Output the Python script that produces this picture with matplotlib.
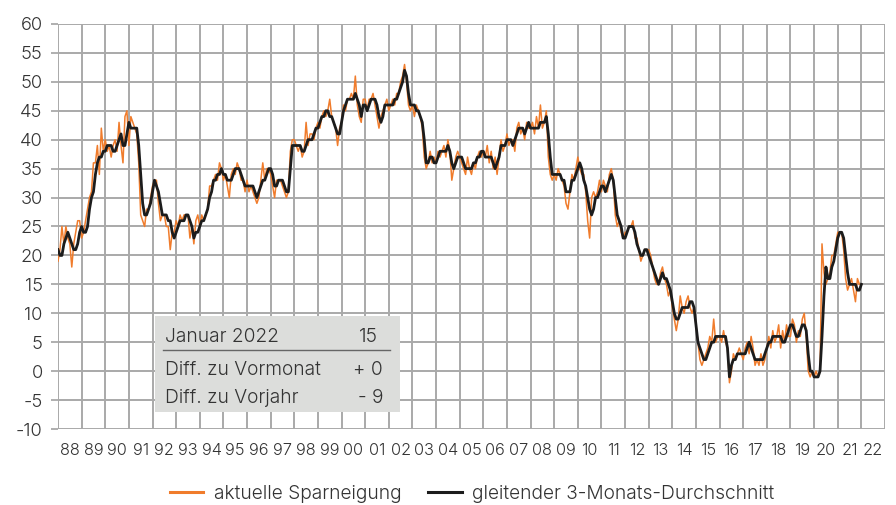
import matplotlib
matplotlib.use("Agg")
import matplotlib.pyplot as plt
import numpy as np
from matplotlib.patches import Rectangle

plt.rcParams['font.family'] = ['Inter', 'DejaVu Sans']
plt.rcParams['font.weight'] = 300

start_year = 1988
# monthly values Jan 1988 .. Jan 2022, one row per year
sparneigung = [
    19, 21, 25, 22, 25, 23, 22, 18, 22, 24, 26, 26,   # 88
    23, 24, 26, 28, 30, 31, 36, 36, 39, 34, 42, 38,   # 89
    40, 38, 39, 37, 39, 40, 38, 43, 39, 36, 44, 45,   # 90
    39, 44, 43, 42, 41, 36, 27, 26, 25, 28, 28, 30,   # 91
    32, 33, 33, 29, 26, 27, 27, 25, 25, 21, 24, 24,   # 92
    26, 25, 27, 26, 27, 27, 27, 23, 25, 22, 26, 27,   # 93
    25, 27, 26, 27, 28, 32, 32, 33, 34, 33, 36, 35,   # 94
    33, 34, 32, 30, 34, 35, 34, 36, 35, 33, 33, 31,   # 95
    33, 31, 32, 31, 30, 29, 30, 33, 36, 33, 35, 35,   # 96
    34, 32, 30, 33, 33, 33, 32, 31, 30, 31, 38, 40,   # 97
    40, 39, 38, 39, 37, 38, 43, 39, 41, 41, 40, 42,   # 98
    43, 42, 44, 45, 44, 45, 47, 44, 43, 42, 39, 42,   # 99
    43, 46, 45, 47, 47, 48, 47, 51, 46, 44, 43, 47,   # 00
    47, 45, 47, 47, 48, 46, 44, 42, 44, 45, 46, 47,   # 01
    45, 46, 47, 46, 48, 48, 50, 51, 53, 50, 46, 45,   # 02
    46, 44, 46, 45, 44, 42, 37, 35, 36, 38, 36, 37,   # 03
    36, 38, 37, 38, 39, 37, 40, 38, 33, 35, 37, 38,   # 04
    37, 36, 35, 34, 37, 35, 34, 36, 35, 37, 38, 37,   # 05
    38, 37, 39, 36, 38, 35, 37, 34, 37, 40, 38, 39,   # 06
    41, 39, 40, 40, 38, 42, 43, 41, 42, 40, 43, 42,   # 07
    42, 43, 41, 44, 42, 46, 42, 43, 45, 37, 34, 33,   # 08
    34, 33, 35, 34, 33, 32, 29, 28, 31, 34, 33, 35,   # 09
    37, 35, 34, 34, 31, 26, 23, 30, 31, 30, 31, 33,   # 10
    31, 33, 32, 31, 34, 35, 33, 27, 25, 26, 24, 23,   # 11
    24, 24, 25, 25, 26, 23, 23, 21, 19, 20, 21, 21,   # 12
    21, 20, 18, 16, 15, 15, 17, 18, 16, 15, 13, 14,   # 13
    11, 9, 7, 9, 13, 11, 10, 12, 13, 11, 10, 11,      # 14
    8, 5, 2, 1, 2, 3, 4, 6, 5, 9, 5, 6,               # 15
    6, 5, 7, 5, 4, -2, 0, 3, 2, 3, 4, 3,              # 16
    2, 4, 5, 3, 6, 4, 1, 2, 1, 3, 1, 2,               # 17
    4, 6, 4, 7, 5, 6, 8, 4, 7, 5, 8, 6,               # 18
    6, 9, 8, 5, 7, 6, 9, 10, 6, 0, -1, 0,             # 19
    -1, 0, -1, 0, 22, 17, 15, 16, 17, 20, 20, 22,     # 20
    24, 24, 24, 21, 16, 14, 15, 16, 14, 12, 16, 15,   # 21
    15,                                               # 22
]
durchschnitt = [
    21, 20, 20, 22, 23, 24, 23, 22, 21, 21, 22, 24,   # 88
    25, 24, 24, 25, 28, 30, 31, 34, 36, 37, 37, 38,   # 89
    38, 39, 39, 39, 38, 38, 39, 40, 41, 39, 39, 41,   # 90
    43, 42, 42, 42, 42, 39, 34, 29, 27, 27, 28, 29,   # 91
    31, 33, 32, 31, 29, 27, 27, 27, 26, 26, 24, 23,   # 92
    24, 25, 26, 26, 26, 27, 27, 26, 25, 23, 24, 24,   # 93
    25, 26, 26, 27, 28, 30, 31, 33, 33, 34, 34, 35,   # 94
    34, 34, 33, 33, 33, 34, 35, 35, 35, 34, 33, 32,   # 95
    32, 32, 32, 32, 31, 30, 31, 32, 33, 33, 34, 35,   # 96
    35, 34, 32, 32, 33, 33, 33, 32, 31, 31, 35, 39,   # 97
    39, 39, 39, 39, 38, 38, 39, 40, 40, 40, 41, 42,   # 98
    42, 43, 44, 44, 45, 45, 44, 44, 43, 42, 41, 41,   # 99
    43, 45, 46, 47, 47, 47, 47, 48, 47, 46, 44, 46,   # 00
    46, 45, 46, 47, 47, 47, 46, 44, 43, 44, 46, 46,   # 01
    46, 46, 46, 47, 47, 48, 49, 50, 52, 51, 48, 46,   # 02
    46, 46, 45, 45, 44, 43, 40, 36, 36, 37, 37, 36,   # 03
    36, 37, 38, 38, 38, 38, 39, 38, 36, 35, 36, 37,   # 04
    37, 37, 36, 35, 35, 35, 35, 36, 36, 37, 37, 38,   # 05
    38, 37, 37, 37, 37, 36, 35, 36, 37, 39, 39, 39,   # 06
    40, 40, 40, 39, 40, 41, 42, 42, 42, 41, 42, 43,   # 07
    42, 42, 42, 42, 42, 43, 43, 43, 44, 41, 37, 34,   # 08
    34, 34, 34, 34, 33, 33, 31, 31, 31, 33, 33, 34,   # 09
    35, 36, 35, 33, 32, 30, 28, 27, 28, 30, 30, 31,   # 10
    32, 32, 31, 32, 33, 34, 33, 30, 27, 26, 25, 23,   # 11
    23, 24, 25, 25, 25, 24, 22, 21, 20, 20, 21, 21,   # 12
    20, 19, 18, 17, 16, 15, 16, 17, 16, 16, 15, 14,   # 13
    12, 10, 9, 9, 10, 11, 11, 11, 11, 12, 12, 11,     # 14
    8, 5, 4, 3, 2, 2, 3, 4, 5, 5, 6, 6,               # 15
    6, 6, 6, 6, 4, -1, 1, 2, 2, 3, 3, 3,              # 16
    3, 3, 4, 5, 4, 3, 2, 2, 2, 2, 2, 3,               # 17
    4, 5, 5, 6, 6, 6, 6, 6, 5, 5, 6, 7,               # 18
    8, 8, 7, 6, 6, 7, 8, 8, 7, 3, 0, 0,               # 19
    -1, -1, -1, 0, 6, 13, 18, 16, 16, 18, 19, 21,     # 20
    23, 24, 24, 23, 20, 17, 15, 15, 15, 15, 14, 14,   # 21
    15,                                               # 22
]
year_labels = [f"{y % 100:02d}" for y in range(1988, 2023)]
y_ticks = list(range(-10, 65, 5))

x = start_year + np.arange(len(sparneigung)) / 12.0

fig = plt.figure(figsize=(8.96, 5.05), dpi=100)
ax = fig.add_axes([58 / 896, 1 - 429 / 505, (885 - 58) / 896, (429 - 24) / 505])

grid_col = '#a9a9a9'
ax.set_xlim(1988, 2023)
ax.set_ylim(-10, 60)
ax.set_xticks(range(1988, 2024))
ax.set_xticklabels([])
ax.set_xticks([y + 0.5 for y in range(1988, 2023)], minor=True)
ax.set_xticklabels(year_labels, minor=True)
ax.set_yticks(y_ticks)
ax.set_yticklabels([str(v) for v in y_ticks])
ax.tick_params(axis='x', which='both', length=0, pad=10, labelsize=11.8, labelcolor='#333333')
ax.tick_params(axis='y', length=5, width=1.3, color=grid_col, pad=6, labelsize=13.2, labelcolor='#333333')
ax.grid(True, which='major', color=grid_col, lw=1.4)
for s in ax.spines.values():
    s.set_visible(False)
ax.set_axisbelow(True)

ax.plot(x, sparneigung, color='#f07c2c', lw=1.1, label='aktuelle Sparneigung', zorder=3)
ax.plot(x, durchschnitt, color='#1c1c1c', lw=2.0, label='gleitender 3-Monats-Durchschnitt', zorder=4)

# info box
last = sparneigung[-1]
d_month = last - sparneigung[-2]
d_year = last - sparneigung[-13]
fmt = lambda d: ('+ ' if d >= 0 else '- ') + str(abs(d))

x0, x1 = (155 - 58) / 827, (400 - 58) / 827
y0, y1 = (429 - 412) / 405, (429 - 316) / 405
ax.add_patch(Rectangle((x0, y0), x1 - x0, y1 - y0, transform=ax.transAxes,
                       facecolor='#dcdddb', edgecolor='none', zorder=5))
tx = (165 - 58) / 827
rx = (383 - 58) / 827
fs = 13.8
tc = '#333333'
ax.text(tx, (429 - 337) / 405, 'Januar 2022', transform=ax.transAxes, fontsize=fs, color=tc, va='center', zorder=6)
ax.text((378 - 58) / 827, (429 - 337) / 405, str(last), transform=ax.transAxes, fontsize=fs, color=tc, va='center', ha='right', zorder=6)
ax.plot([(163 - 58) / 827, (390 - 58) / 827], [(429 - 350) / 405] * 2, transform=ax.transAxes,
        color='#666666', lw=1.0, zorder=6)
ax.text(tx, (429 - 370) / 405, 'Diff. zu Vormonat', transform=ax.transAxes, fontsize=fs, color=tc, va='center', zorder=6)
ax.text(rx, (429 - 370) / 405, fmt(d_month), transform=ax.transAxes, fontsize=fs, color=tc, va='center', ha='right', zorder=6)
ax.text(tx, (429 - 398) / 405, 'Diff. zu Vorjahr', transform=ax.transAxes, fontsize=fs, color=tc, va='center', zorder=6)
ax.text(rx, (429 - 398) / 405, fmt(d_year), transform=ax.transAxes, fontsize=fs, color=tc, va='center', ha='right', zorder=6)

leg = fig.legend(loc='center', bbox_to_anchor=(0.527, 1 - 494 / 505), ncol=2, frameon=False,
                 fontsize=13.8, handlelength=1.75, columnspacing=1.4, handletextpad=0.55)
for t in leg.get_texts():
    t.set_color('#333333')
for h in leg.legend_handles:
    h.set_linewidth(2.2)

fig.savefig('out.png', dpi=100)
